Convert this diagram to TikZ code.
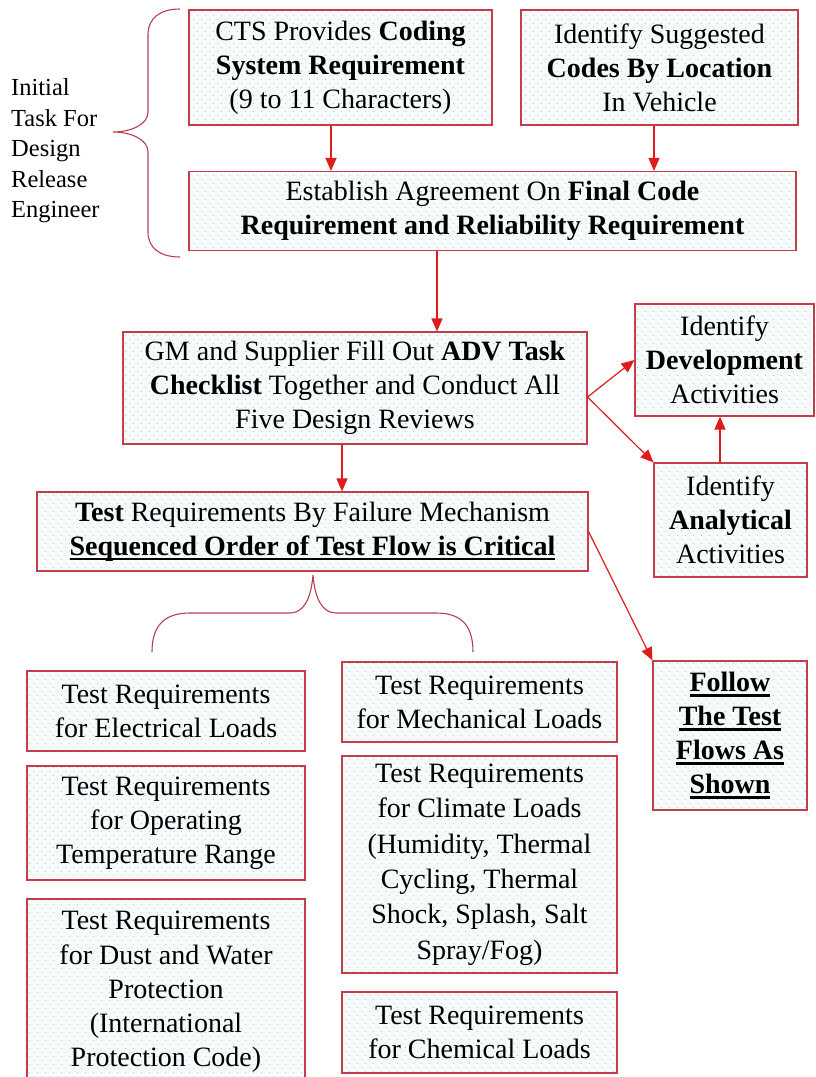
\documentclass[tikz,border=0pt]{standalone}
\usepackage{fontspec}
\setmainfont{Liberation Serif}
\usetikzlibrary{arrows.meta,calc,patterns.meta}
\definecolor{boxc}{RGB}{196,62,74}
\definecolor{arrc}{RGB}{222,28,28}
\definecolor{bracec}{RGB}{184,62,84}
\definecolor{fillc}{RGB}{247,250,251}
\definecolor{dotc}{RGB}{168,200,212}
\tikzdeclarepattern{
  name=mydots,
  type=uncolored,
  bounding box={(0pt,0pt) and (8pt,8pt)},
  tile size={(8pt,8pt)},
  code={\fill (2pt,2pt) circle (0.6pt); \fill (6pt,6pt) circle (0.6pt);}
}
\newcommand{\myul}[1]{\setbox0\hbox{#1}\rlap{\rule[-5pt]{\wd0}{2.4pt}}\box0}
\tikzset{
  box/.style={draw=boxc, line width=1.1pt, preaction={fill=fillc},
    pattern=mydots, pattern color=dotc, inner sep=0pt, align=center,
    font=\fontsize{28}{34}\selectfont},
  arr/.style={draw=arrc, line width=1.2pt, -{Triangle[length=13pt,width=11pt,fill=arrc]}},
  bracestyle/.style={draw=bracec, line width=1.1pt},
  sidetext/.style={align=left, anchor=west, inner sep=0pt,
    font=\fontsize{24.5}{30.5}\selectfont}
}
\begin{document}
\begin{tikzpicture}[x=1pt,y=-1pt]
\useasboundingbox (0,0) rectangle (816,1077);
\clip (0,0) rectangle (816,1077);

% top boxes
\node[box, minimum width=303pt, minimum height=115pt] (cts) at (340.5,67.5)
  {CTS Provides \textbf{Coding}\\\textbf{System Requirement}\\(9 to 11 Characters)};
\node[box, minimum width=277pt, minimum height=115pt] (ids) at (659.5,67.5)
  {Identify Suggested\\\textbf{Codes By Location}\\In Vehicle};
\node[box, minimum width=607pt, minimum height=79pt] (est) at (492.5,211)
  {Establish Agreement On \textbf{Final Code}\\\textbf{Requirement and Reliability Requirement}};

% side text and brace
\node[sidetext] (initial) at (11,151) {Initial\\Task For\\Design\\Release\\Engineer};
\draw[bracestyle] (180,9) .. controls (160,9) and (148,18) .. (148,35) -- (148,112)
  .. controls (148,125) and (130,132) .. (113,132)
  .. controls (130,132) and (148,139) .. (148,152) -- (148,232)
  .. controls (148,248) and (160,257) .. (180,257);

% middle boxes
\node[box, minimum width=464pt, minimum height=112pt] (gm) at (355,388)
  {GM and Supplier Fill Out \textbf{ADV Task}\\\textbf{Checklist} Together and Conduct All\\Five Design Reviews};
\node[box, minimum width=179pt, minimum height=112pt] (dev) at (724.5,360)
  {Identify\\\textbf{Development}\\Activities};
\node[box, minimum width=153pt, minimum height=114pt] (ana) at (730.5,520)
  {Identify\\\textbf{Analytical}\\Activities};
\node[box, minimum width=551pt, minimum height=79pt] (test) at (312.5,531.5)
  {\textbf{Test} Requirements By Failure Mechanism\\\myul{\textbf{Sequenced Order of Test Flow is Critical}}};
\node[box, minimum width=154pt, minimum height=149pt] (follow) at (730,735.5)
  {\myul{\textbf{Follow}}\\\myul{\textbf{The Test}}\\\myul{\textbf{Flows As}}\\\myul{\textbf{Shown}}};

% lower brace
\draw[bracestyle] (152,652) .. controls (152,625) and (165,613) .. (190,613) -- (290,613)
  .. controls (303,613) and (311,600) .. (313,575)
  .. controls (315,600) and (323,613) .. (336,613) -- (436,613)
  .. controls (461,613) and (473,625) .. (473,652);

% lower boxes
\node[box, minimum width=278pt, minimum height=80pt] (elec) at (166,711)
  {Test Requirements\\for Electrical Loads};
\node[box, minimum width=278pt, minimum height=114pt] (oper) at (166,823)
  {Test Requirements\\for Operating\\Temperature Range};
\node[box, minimum width=278pt, minimum height=186pt, font=\fontsize{28}{34.3}\selectfont] (dust) at (166,992)
  {Test Requirements\\for Dust and Water\\Protection\\(International\\Protection Code)};
\node[box, minimum width=275pt, minimum height=80pt] (mech) at (479.5,702)
  {Test Requirements\\for Mechanical Loads};
\node[box, minimum width=275pt, minimum height=217pt, font=\fontsize{28}{35.4}\selectfont] (clim) at (479.5,864.5)
  {Test Requirements\\for Climate Loads\\(Humidity, Thermal\\Cycling, Thermal\\Shock, Splash, Salt\\Spray/Fog)};
\node[box, minimum width=275pt, minimum height=81pt] (chem) at (479.5,1032.5)
  {Test Requirements\\for Chemical Loads};

% connectors
\draw[arr] (cts.south -| 331,0) -- (est.north -| 331,0);
\draw[arr] (ids.south -| 654,0) -- (est.north -| 654,0);
\draw[arr] (est.south -| 437,0) -- (gm.north -| 437,0);
\draw[arr] (gm.south -| 342,0) -- (test.north -| 342,0);
\draw[arr] ($(gm.east)+(0,9)$) -- (dev.west);
\draw[arr] ($(gm.east)+(0,9)$) -- (ana.north west);
\draw[arr] (ana.north -| 720,0) -- (dev.south -| 720,0);
\draw[arr] (test.east) -- (follow.north west);
\end{tikzpicture}
\end{document}
